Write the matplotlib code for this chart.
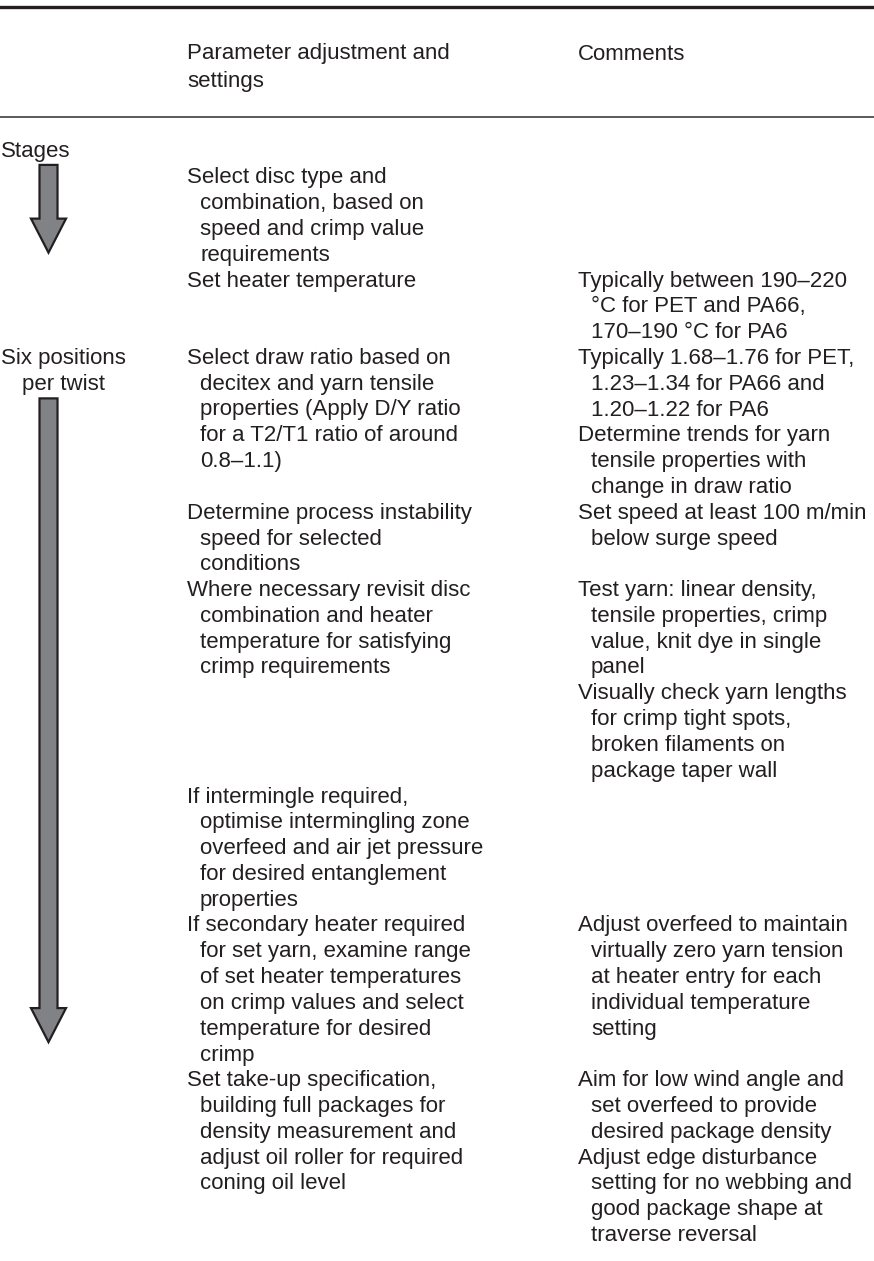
import matplotlib
matplotlib.use("Agg")
import matplotlib.pyplot as plt
from matplotlib.patches import Polygon

plt.rcParams['font.family'] = ['Liberation Sans', 'DejaVu Sans']

# table text
header_param = ["Parameter adjustment and", "settings"]
header_comments = "Comments"
stage_label = "Stages"
twist_label = ["Six positions", "per twist"]

param_steps = [
    ["Select disc type and", "combination, based on", "speed and crimp value", "requirements"],
    ["Set heater temperature"],
    ["Select draw ratio based on", "decitex and yarn tensile", "properties (Apply D/Y ratio",
     "for a T2/T1 ratio of around", "0.8–1.1)"],
    ["Determine process instability", "speed for selected", "conditions"],
    ["Where necessary revisit disc", "combination and heater", "temperature for satisfying",
     "crimp requirements"],
    ["If intermingle required,", "optimise intermingling zone", "overfeed and air jet pressure",
     "for desired entanglement", "properties"],
    ["If secondary heater required", "for set yarn, examine range", "of set heater temperatures",
     "on crimp values and select", "temperature for desired", "crimp"],
    ["Set take-up specification,", "building full packages for", "density measurement and",
     "adjust oil roller for required", "coning oil level"],
]

comments = [
    [],
    [["Typically between 190–220", "°C for PET and PA66,", "170–190 °C for PA6"]],
    [["Typically 1.68–1.76 for PET,", "1.23–1.34 for PA66 and", "1.20–1.22 for PA6"],
     ["Determine trends for yarn", "tensile properties with", "change in draw ratio"]],
    [["Set speed at least 100 m/min", "below surge speed"]],
    [["Test yarn: linear density,", "tensile properties, crimp", "value, knit dye in single", "panel"],
     ["Visually check yarn lengths", "for crimp tight spots,", "broken filaments on",
      "package taper wall"]],
    [],
    [["Adjust overfeed to maintain", "virtually zero yarn tension", "at heater entry for each",
      "individual temperature", "setting"]],
    [["Aim for low wind angle and", "set overfeed to provide", "desired package density"],
     ["Adjust edge disturbance", "setting for no webbing and", "good package shape at",
      "traverse reversal"]],
]
twist_step = 2  # step where the "Six positions per twist" stage starts

# layout (pixels)
W, H = 874, 1261
x1, x2, x3 = 1, 187, 578
indent = 13
y0 = 152
step = 25.8
fs = 16
tc = '#231f20'

fig = plt.figure(figsize=(W / 100, H / 100), dpi=100)
ax = fig.add_axes([0, 0, 1, 1])
ax.set_xlim(0, W)
ax.set_ylim(H, 0)
ax.axis('off')


def ry(r):
    return y0 + r * step


def para(x, r, lines):
    for i, s in enumerate(lines):
        ax.text(x + (indent if i else 0), ry(r + i), s, fontsize=fs, color=tc,
                va='center', ha='left')
    return r + len(lines)


# rules
ax.axhline(7, color=tc, lw=2.4)
ax.axhline(117, color='#4d4d4f', lw=1.3)

# header
ax.text(x2, 54, header_param[0], fontsize=fs, color=tc, va='center')
ax.text(x2, 81, header_param[1], fontsize=fs, color=tc, va='center')
ax.text(x3, 54, header_comments, fontsize=fs, color=tc, va='center')

ax.text(x1, ry(0), stage_label, fontsize=fs, color=tc, va='center')

row = 1
starts = []
for p, cm in zip(param_steps, comments):
    starts.append(row)
    e2 = para(x2, row, p)
    e3 = row
    for c in cm:
        e3 = para(x3, e3, c)
    row = max(e2, e3)

tr = starts[twist_step]
t1 = ax.text(x1, ry(tr), twist_label[0], fontsize=fs, color=tc, va='center', ha='left')
fig.canvas.draw()
bb = t1.get_window_extent()
cx = x1 + bb.width / 2
ax.text(cx, ry(tr + 1), twist_label[1], fontsize=fs, color=tc, va='center', ha='center')


def arrow(yt, yb, xc=48.5, sw=18, hw=35, hh=34):
    pts = [(xc - sw / 2, yt), (xc + sw / 2, yt), (xc + sw / 2, yb - hh),
           (xc + hw / 2, yb - hh), (xc, yb), (xc - hw / 2, yb - hh),
           (xc - sw / 2, yb - hh)]
    ax.add_patch(Polygon(pts, closed=True, fc='#808285', ec=tc, lw=1.6,
                         joinstyle='miter'))


arrow(ry(0.5), ry(starts[1] - 1.1))
arrow(ry(tr + 1.55), ry(starts[-1] - 1.5))

fig.savefig('out.png', dpi=100)
